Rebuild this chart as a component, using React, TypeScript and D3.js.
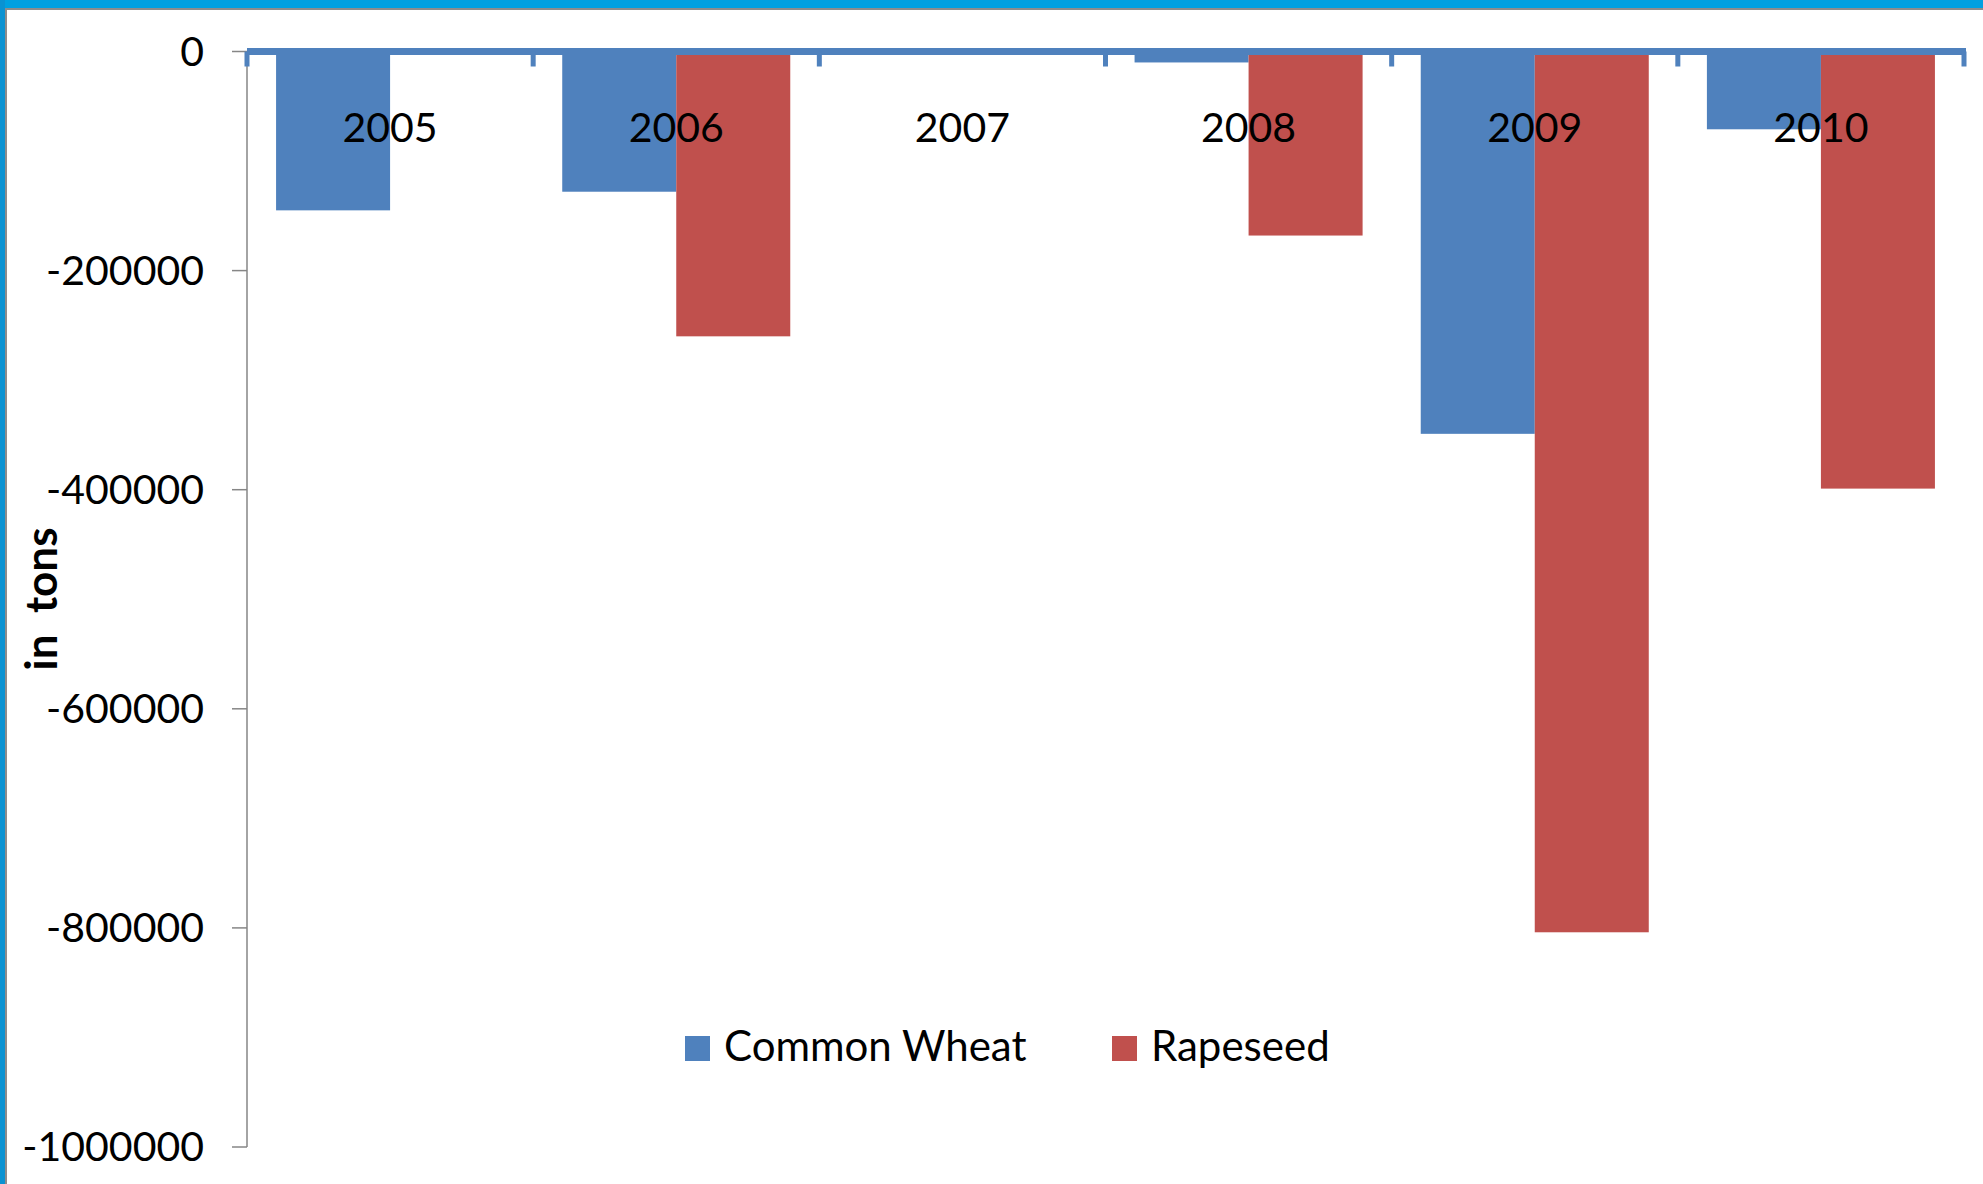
import React from "react";
import * as d3 from "d3";

// Annual change in tons per crop (negative = shortfall)
const years = ["2005", "2006", "2007", "2008", "2009", "2010"];
const seriesNames = ["Common Wheat", "Rapeseed"];
const commonWheat = [-145000, -128000, 0, -10000, -349000, -71000];
const rapeseed = [0, -260000, 0, -168000, -804000, -399000];
const yTicks = [0, -200000, -400000, -600000, -800000, -1000000];
const seriesColors = ["#4F81BD", "#C0504D"];

const W = 1983;
const H = 1184;
const FONT = "Lato, 'Open Sans', sans-serif";

export default function App() {
  const x = d3.scaleBand<string>().domain(years).range([247, 1964]).padding(0);
  const xInner = d3
    .scaleBand<number>()
    .domain([0, 1])
    .range([0, x.bandwidth()])
    .paddingInner(0)
    .paddingOuter(0.255);
  const y = d3.scaleLinear().domain([-1000000, 0]).range([1147, 51.5]);

  const series = [commonWheat, rapeseed];
  const y0 = y(0);
  const boundaries = [...years.map((d) => x(d) as number), 1964];

  return (
    <div style={{ position: "absolute", left: 0, top: 0, width: W, height: H }}>
      <svg width={W} height={H} style={{ display: "block", background: "#fff" }}>
        {/* slide frame */}
        <rect x={0} y={0} width={W} height={8} fill="#00A0E0" />
        <rect x={0} y={8} width={W} height={2} fill="#8C8C8C" />
        <rect x={0} y={0} width={5} height={H} fill="#0A92D2" />
        <rect x={5} y={10} width={2} height={H - 10} fill="#8C8C8C" />

        {/* value axis */}
        <line x1={247} x2={247} y1={y(-1000000)} y2={y0} stroke="#868686" strokeWidth={1.5} />
        {yTicks.map((t) => (
          <g key={t}>
            <line x1={232} x2={247} y1={y(t)} y2={y(t)} stroke="#868686" strokeWidth={1.5} />
            <text
              x={204}
              y={y(t) + 14}
              textAnchor="end"
              fontFamily={FONT}
              fontSize={41}
              fill="#000"
            >
              {String(t)}
            </text>
          </g>
        ))}
        <text
          transform={`translate(57,599) rotate(-90)`}
          textAnchor="middle"
          fontFamily={FONT}
          fontSize={44}
          fontWeight="bold"
          fill="#000"
          style={{ whiteSpace: "pre" }}
        >
          {"in  tons"}
        </text>

        {/* bars */}
        {series.map((vals, si) =>
          vals.map((v, i) => {
            if (v === 0) return null;
            const bx = (x(years[i]) as number) + (xInner(si) as number);
            return (
              <rect
                key={`${si}-${i}`}
                x={bx}
                y={y0}
                width={xInner.bandwidth()}
                height={y(v) - y0}
                fill={seriesColors[si]}
              />
            );
          })
        )}

        {/* category axis */}
        <line x1={247} x2={1966} y1={y0} y2={y0} stroke="#4F81BD" strokeWidth={7} />
        {boundaries.map((bx, i) => (
          <rect key={i} x={bx - 2.5} y={y0} width={5} height={15} fill="#4F81BD" />
        ))}
        {years.map((yr) => (
          <text
            key={yr}
            x={(x(yr) as number) + x.bandwidth() / 2}
            y={142}
            textAnchor="middle"
            fontFamily={FONT}
            fontSize={41}
            fill="#000"
          >
            {yr}
          </text>
        ))}

        {/* legend */}
        {seriesNames.map((name, i) => {
          const lx = [685, 1112][i];
          return (
            <g key={name}>
              <rect x={lx} y={1036} width={25} height={25} fill={seriesColors[i]} />
              <text x={lx + 39} y={1061} fontFamily={FONT} fontSize={42} fill="#000">
                {name}
              </text>
            </g>
          );
        })}
      </svg>
    </div>
  );
}
